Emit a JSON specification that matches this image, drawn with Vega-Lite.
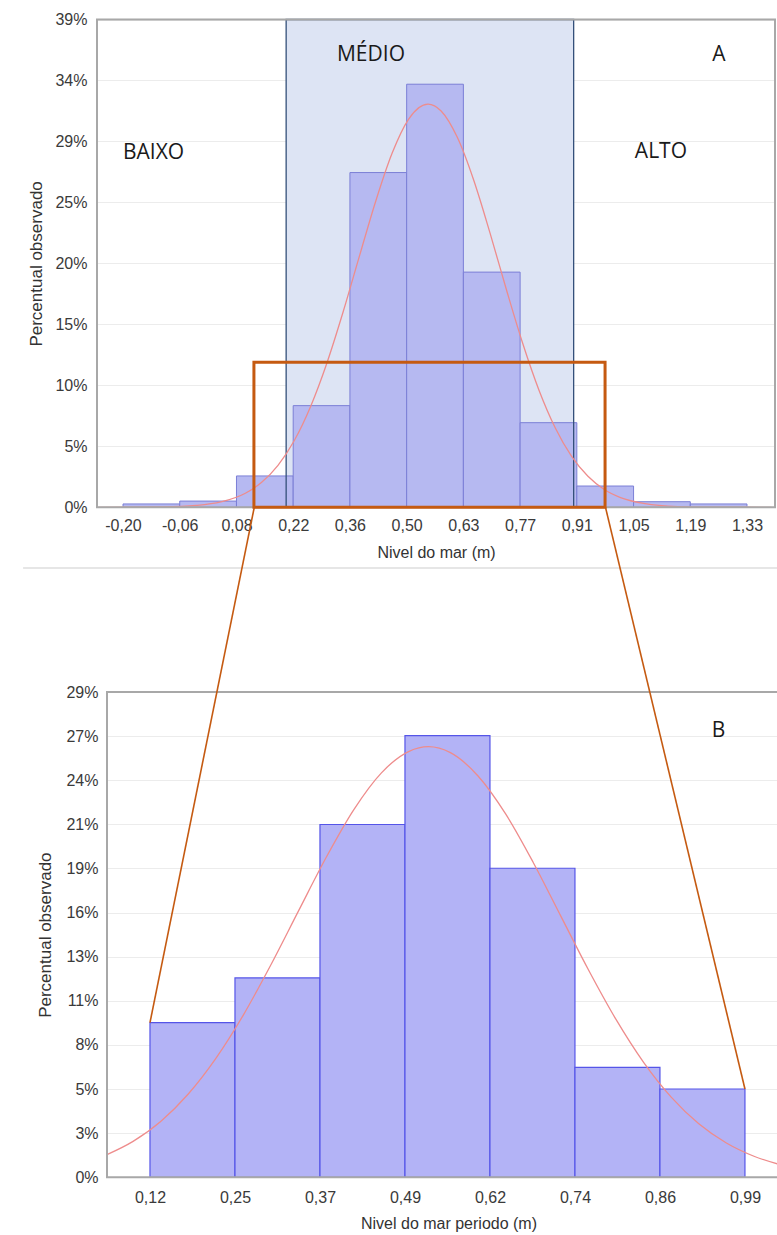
{
  "$schema": "https://vega.github.io/schema/vega-lite/v6.json",
  "width": 777,
  "height": 1235,
  "autosize": {"type": "none"},
  "padding": 0,
  "background": "white",
  "config": {
    "view": {"stroke": null},
    "axis": {
      "labelFont": "Liberation Sans",
      "labelFontSize": 16,
      "labelColor": "#3a3a3a",
      "titleFont": "Liberation Sans",
      "titleFontSize": 16,
      "titleFontWeight": "normal",
      "titleColor": "#333333",
      "ticks": false,
      "domain": false,
      "gridColor": "#ececec",
      "gridWidth": 1
    }
  },
  "datasets": {
    "regiaoA": [{"x0": 0.2, "x1": 0.905, "y0": 0, "y1": 39.2}],
    "quadroA": [{"x0": -0.2638, "x1": 1.3987, "y0": 0, "y1": 39.2}],
    "zoomA": [{"x0": 0.121, "x1": 0.982, "y0": 0, "y1": 11.66}],
    "separador": [{"x0": -0.445, "x1": 1.6, "y": -4.88}],
    "barrasA": [
      {"x0": -0.2, "x1": -0.0609, "pct": 0.27},
      {"x0": -0.0609, "x1": 0.0782, "pct": 0.5},
      {"x0": 0.0782, "x1": 0.2173, "pct": 2.52},
      {"x0": 0.2173, "x1": 0.3564, "pct": 8.17},
      {"x0": 0.3564, "x1": 0.4955, "pct": 26.9},
      {"x0": 0.4955, "x1": 0.6346, "pct": 34.0},
      {"x0": 0.6346, "x1": 0.7737, "pct": 18.9},
      {"x0": 0.7737, "x1": 0.9128, "pct": 6.8},
      {"x0": 0.9128, "x1": 1.0519, "pct": 1.71},
      {"x0": 1.0519, "x1": 1.191, "pct": 0.45},
      {"x0": 1.191, "x1": 1.33, "pct": 0.27}
    ],
    "curvaA": [
      {"x": -0.26, "pct": 0.0},
      {"x": -0.1, "pct": 0.03},
      {"x": -0.02, "pct": 0.15},
      {"x": 0.04, "pct": 0.43},
      {"x": 0.1, "pct": 1.13},
      {"x": 0.14, "pct": 2.01},
      {"x": 0.18, "pct": 3.37},
      {"x": 0.22, "pct": 5.37},
      {"x": 0.26, "pct": 8.11},
      {"x": 0.3, "pct": 11.6},
      {"x": 0.34, "pct": 15.73},
      {"x": 0.38, "pct": 20.22},
      {"x": 0.42, "pct": 24.64},
      {"x": 0.46, "pct": 28.47},
      {"x": 0.5, "pct": 31.18},
      {"x": 0.548, "pct": 32.4},
      {"x": 0.58, "pct": 31.85},
      {"x": 0.62, "pct": 29.71},
      {"x": 0.66, "pct": 26.28},
      {"x": 0.7, "pct": 22.03},
      {"x": 0.74, "pct": 17.5},
      {"x": 0.78, "pct": 13.18},
      {"x": 0.82, "pct": 9.41},
      {"x": 0.86, "pct": 6.37},
      {"x": 0.9, "pct": 4.09},
      {"x": 0.94, "pct": 2.49},
      {"x": 0.98, "pct": 1.43},
      {"x": 1.02, "pct": 0.78},
      {"x": 1.08, "pct": 0.29},
      {"x": 1.16, "pct": 0.06},
      {"x": 1.24, "pct": 0.01},
      {"x": 1.39, "pct": 0.0}
    ],
    "textosA": [
      {"x": -0.125, "y": 28.0, "label": "BAIXO"},
      {"x": 0.408, "y": 35.9, "label": "MÉDIO"},
      {"x": 1.261, "y": 35.9, "label": "A"},
      {"x": 1.119, "y": 28.05, "label": "ALTO"}
    ],
    "barrasB": [
      {"x0": 0.1245, "x1": 0.2477, "pct": 9.34},
      {"x0": 0.2477, "x1": 0.3709, "pct": 12.04},
      {"x0": 0.3709, "x1": 0.4941, "pct": 21.3},
      {"x0": 0.4941, "x1": 0.6173, "pct": 26.67},
      {"x0": 0.6173, "x1": 0.7405, "pct": 18.66},
      {"x0": 0.7405, "x1": 0.8637, "pct": 6.64},
      {"x0": 0.8637, "x1": 0.9869, "pct": 5.33}
    ],
    "curvaB": [
      {"x": 0.0622, "pct": 1.37},
      {"x": 0.1, "pct": 2.17},
      {"x": 0.14, "pct": 3.37},
      {"x": 0.18, "pct": 5.03},
      {"x": 0.22, "pct": 7.18},
      {"x": 0.26, "pct": 9.81},
      {"x": 0.3, "pct": 12.85},
      {"x": 0.34, "pct": 16.1},
      {"x": 0.38, "pct": 19.32},
      {"x": 0.42, "pct": 22.2},
      {"x": 0.46, "pct": 24.42},
      {"x": 0.5, "pct": 25.72},
      {"x": 0.528, "pct": 26.0},
      {"x": 0.56, "pct": 25.64},
      {"x": 0.6, "pct": 24.23},
      {"x": 0.64, "pct": 21.94},
      {"x": 0.68, "pct": 19.01},
      {"x": 0.72, "pct": 15.77},
      {"x": 0.76, "pct": 12.53},
      {"x": 0.8, "pct": 9.53},
      {"x": 0.84, "pct": 6.94},
      {"x": 0.88, "pct": 4.84},
      {"x": 0.92, "pct": 3.23},
      {"x": 0.96, "pct": 2.07},
      {"x": 1.0, "pct": 1.27},
      {"x": 1.04, "pct": 0.74}
    ],
    "quadroB": [{"x0": 0.0622, "x1": 1.0522, "y0": 0, "y1": 29.3}],
    "ligacoes": [
      {"xa": 0.2757, "ya": 40.46, "xb": 0.1245, "yb": 9.34},
      {"xa": 0.7847, "ya": 40.46, "xb": 0.9869, "yb": 5.33}
    ],
    "textosB": [{"x": 0.9485, "y": 26.6, "label": "B"}]
  },
  "layer": [
    {
      "layer": [
        {
          "data": {"name": "regiaoA"},
          "mark": {"type": "rect", "fill": "#dde4f4"},
          "encoding": {
            "x": {
              "field": "x0", "type": "quantitative",
              "scale": {"domain": [-0.2638, 1.3987], "range": [97, 775], "nice": false, "zero": false},
              "axis": {
                "title": "Nivel do mar (m)", "orient": "bottom", "offset": -727.7,
                "values": [-0.2, -0.0609, 0.0782, 0.2173, 0.3564, 0.4955, 0.6346, 0.7737, 0.9128, 1.0519, 1.191, 1.33],
                "labelExpr": "replace(replace(format(datum.value, '.2f'), '.', ','), '\u2212', '-')",
                "labelPadding": 10, "titlePadding": 11, "grid": false
              }
            },
            "x2": {"field": "x1"},
            "y": {
              "field": "y0", "type": "quantitative",
              "scale": {"domain": [0, 39.2], "range": [507.3, 19.5], "nice": false, "zero": false},
              "axis": {
                "title": "Percentual observado", "orient": "left", "offset": -97,
                "values": [0, 4.9, 9.8, 14.7, 19.6, 24.5, 29.4, 34.3, 39.2],
                "labelExpr": "format(datum.value, '.0f') + '%'",
                "labelPadding": 10, "titlePadding": 9, "titleFontSize": 17, "grid": true
              }
            },
            "y2": {"field": "y1"}
          }
        },
        {
          "data": {"name": "barrasA"},
          "mark": {"type": "rect", "fill": "#b6b9f1", "stroke": "#7b7fd6", "strokeWidth": 1},
          "encoding": {
            "x": {"field": "x0", "type": "quantitative"},
            "x2": {"field": "x1"},
            "y": {"field": "pct", "type": "quantitative"},
            "y2": {"datum": 0}
          }
        },
        {
          "data": {"name": "regiaoA"},
          "mark": {"type": "rect", "fill": "transparent", "stroke": "#34507a", "strokeWidth": 1.3},
          "encoding": {
            "x": {"field": "x0", "type": "quantitative"},
            "x2": {"field": "x1"},
            "y": {"field": "y0", "type": "quantitative"},
            "y2": {"field": "y1"}
          }
        },
        {
          "data": {"name": "curvaA"},
          "mark": {"type": "line", "color": "#ee8c8c", "strokeWidth": 1.3, "interpolate": "monotone"},
          "encoding": {
            "x": {"field": "x", "type": "quantitative"},
            "y": {"field": "pct", "type": "quantitative"}
          }
        },
        {
          "data": {"name": "quadroA"},
          "mark": {"type": "rect", "fill": "transparent", "stroke": "#a8a8a8", "strokeWidth": 2},
          "encoding": {
            "x": {"field": "x0", "type": "quantitative"},
            "x2": {"field": "x1"},
            "y": {"field": "y0", "type": "quantitative"},
            "y2": {"field": "y1"}
          }
        },
        {
          "data": {"name": "zoomA"},
          "mark": {"type": "rect", "fill": "transparent", "stroke": "#c55a11", "strokeWidth": 3},
          "encoding": {
            "x": {"field": "x0", "type": "quantitative"},
            "x2": {"field": "x1"},
            "y": {"field": "y0", "type": "quantitative"},
            "y2": {"field": "y1"}
          }
        },
        {
          "data": {"name": "separador"},
          "mark": {"type": "rule", "color": "#e6e6e6", "strokeWidth": 2},
          "encoding": {
            "x": {"field": "x0", "type": "quantitative"},
            "x2": {"field": "x1"},
            "y": {"field": "y", "type": "quantitative"}
          }
        },
        {
          "data": {"name": "textosA"},
          "mark": {"type": "text", "font": "Open Sans", "fontSize": 21, "align": "center", "baseline": "alphabetic", "color": "#1a1a1a"},
          "encoding": {
            "x": {"field": "x", "type": "quantitative"},
            "y": {"field": "y", "type": "quantitative"},
            "text": {"field": "label"}
          }
        }
      ]
    },
    {
      "layer": [
        {
          "data": {"name": "barrasB"},
          "mark": {"type": "rect", "fill": "#b3b3f6", "stroke": "#5555e8", "strokeWidth": 1.2},
          "encoding": {
            "x": {
              "field": "x0", "type": "quantitative",
              "scale": {"domain": [0.0622, 1.0522], "range": [107, 790], "nice": false, "zero": false},
              "axis": {
                "title": "Nivel do mar periodo (m)", "orient": "bottom", "offset": -57.7,
                "values": [0.1245, 0.2477, 0.3709, 0.4941, 0.6173, 0.7405, 0.8637, 0.9869],
                "labelExpr": "replace(format(datum.value, '.2f'), '.', ',')",
                "labelPadding": 12, "titlePadding": 10, "grid": false
              }
            },
            "x2": {"field": "x1"},
            "y": {
              "field": "pct", "type": "quantitative",
              "scale": {"domain": [0, 29.3], "range": [1177.3, 692], "nice": false, "zero": false},
              "axis": {
                "title": "Percentual observado", "orient": "left", "offset": -107,
                "values": [0, 2.6636, 5.3273, 7.9909, 10.6545, 13.3182, 15.9818, 18.6455, 21.3091, 23.9727, 26.6364, 29.3],
                "labelExpr": "format(datum.value, '.0f') + '%'",
                "labelPadding": 9, "titlePadding": 11, "titleFontSize": 17, "grid": true
              }
            },
            "y2": {"datum": 0}
          }
        },
        {
          "data": {"name": "curvaB"},
          "mark": {"type": "line", "color": "#ee8c8c", "strokeWidth": 1.3, "interpolate": "monotone"},
          "encoding": {
            "x": {"field": "x", "type": "quantitative"},
            "y": {"field": "pct", "type": "quantitative"}
          }
        },
        {
          "data": {"name": "quadroB"},
          "mark": {"type": "rect", "fill": "transparent", "stroke": "#a8a8a8", "strokeWidth": 2},
          "encoding": {
            "x": {"field": "x0", "type": "quantitative"},
            "x2": {"field": "x1"},
            "y": {"field": "y0", "type": "quantitative"},
            "y2": {"field": "y1"}
          }
        },
        {
          "data": {"name": "ligacoes"},
          "mark": {"type": "rule", "color": "#c55a11", "strokeWidth": 1.6},
          "encoding": {
            "x": {"field": "xa", "type": "quantitative"},
            "y": {"field": "ya", "type": "quantitative"},
            "x2": {"field": "xb"},
            "y2": {"field": "yb"}
          }
        },
        {
          "data": {"name": "textosB"},
          "mark": {"type": "text", "font": "Open Sans", "fontSize": 21, "align": "center", "baseline": "alphabetic", "color": "#1a1a1a"},
          "encoding": {
            "x": {"field": "x", "type": "quantitative"},
            "y": {"field": "y", "type": "quantitative"},
            "text": {"field": "label"}
          }
        }
      ]
    }
  ],
  "resolve": {"scale": {"x": "independent", "y": "independent"}}
}
